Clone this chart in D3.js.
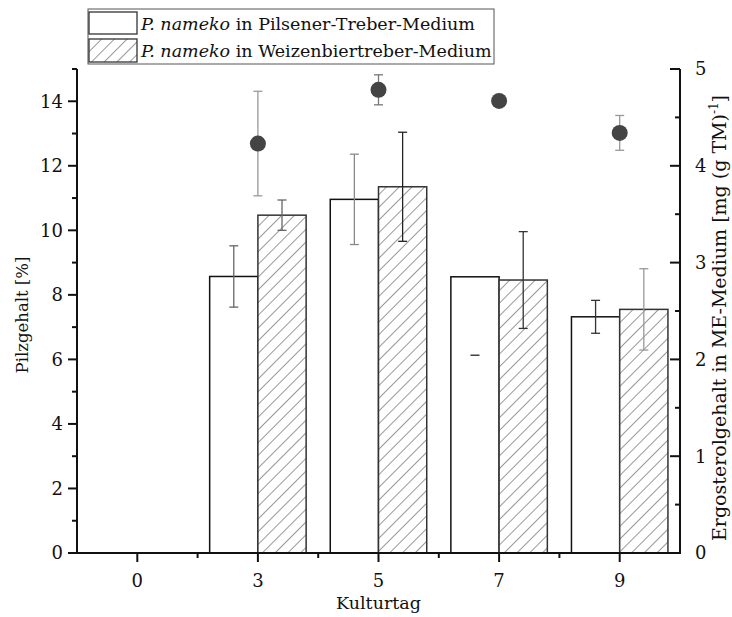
<!DOCTYPE html>
<html><head><meta charset="utf-8">
<script src="https://cdn.jsdelivr.net/npm/d3@7"></script>
<style>body{margin:0;background:#fff}svg{display:block}</style>
</head><body><svg id="c" width="732" height="617" font-family="'DejaVu Serif', serif"></svg>
<script>
const categories = ["0","3","5","7","9"];
const pilsener = [0, 8.57, 10.96, 8.56, 7.32];
const pilsenerErr = [0, 0.95, 1.4, 2.43, 0.51];
const weizen = [0, 10.47, 11.35, 8.46, 7.55];
const weizenErr = [0, 0.47, 1.69, 1.5, 1.26];
const ergosterol = [null, 4.23, 4.785, 4.67, 4.34];
const ergosterolErr = [null, 0.54, 0.155, 0.04, 0.18];
const leftTicks = [0,2,4,6,8,10,12,14];
const rightTicks = [0,1,2,3,4,5];
const legendLabels = ["in Pilsener-Treber-Medium","in Weizenbiertreber-Medium"];

const svg = d3.select("#c");
const x = d3.scaleLinear().domain([-0.5,4.5]).range([77,680]);
const yL = d3.scaleLinear().domain([0,15]).range([553,69]);
const yR = d3.scaleLinear().domain([0,5]).range([553,69]);
const bw = x(0.4)-x(0);

const defs = svg.append("defs");
const pat = defs.append("pattern").attr("id","hatch").attr("patternUnits","userSpaceOnUse")
  .attr("width",9).attr("height",9).attr("patternTransform","rotate(45)");
pat.append("rect").attr("width",9).attr("height",9).attr("fill","#fff");
pat.append("line").attr("x1",0).attr("y1",0).attr("x2",0).attr("y2",9).attr("stroke","#333").attr("stroke-width",1);

const idx = d3.range(categories.length);
svg.append("g").selectAll("rect").data(idx.filter(i=>pilsener[i]>0)).join("rect")
  .attr("x",i=>x(i)-bw).attr("width",bw).attr("y",i=>yL(pilsener[i])).attr("height",i=>yL(0)-yL(pilsener[i]))
  .attr("fill","#fff").attr("stroke","#111").attr("stroke-width",1.5);
svg.append("g").selectAll("rect").data(idx.filter(i=>weizen[i]>0)).join("rect")
  .attr("x",i=>x(i)).attr("width",bw).attr("y",i=>yL(weizen[i])).attr("height",i=>yL(0)-yL(weizen[i]))
  .attr("fill","url(#hatch)").attr("stroke","#333").attr("stroke-width",1.5);

function errBar(g, cx, y, lo, hi, col, capOnlyLow){
  const cw = 4.5;
  if(!capOnlyLow){
    g.append("line").attr("x1",cx).attr("x2",cx).attr("y1",y(hi)).attr("y2",y(lo)).attr("stroke",col).attr("stroke-width",1.3);
    g.append("line").attr("x1",cx-cw).attr("x2",cx+cw).attr("y1",y(hi)).attr("y2",y(hi)).attr("stroke",col).attr("stroke-width",1.3);
  }
  g.append("line").attr("x1",cx-cw).attr("x2",cx+cw).attr("y1",y(lo)).attr("y2",y(lo)).attr("stroke",col).attr("stroke-width",1.3);
}
const eg = svg.append("g");
const pCols = ["#555","#666","#888","#222","#333"];
const wCols = ["#555","#666","#222","#333","#999"];
idx.forEach(i=>{
  if(pilsener[i]>0) errBar(eg, x(i)-bw/2, yL, pilsener[i]-pilsenerErr[i], pilsener[i]+pilsenerErr[i], pCols[i], i===3);
  if(weizen[i]>0) errBar(eg, x(i)+bw/2, yL, weizen[i]-weizenErr[i], weizen[i]+weizenErr[i], wCols[i], false);
});
const eCols = ["#999","#999","#777","#999","#999"];
idx.forEach(i=>{
  if(ergosterol[i]!=null) errBar(eg, x(i), yR, ergosterol[i]-ergosterolErr[i], ergosterol[i]+ergosterolErr[i], eCols[i], false);
});
svg.append("g").selectAll("circle").data(idx.filter(i=>ergosterol[i]!=null)).join("circle")
  .attr("cx",i=>x(i)).attr("cy",i=>yR(ergosterol[i])).attr("r",8).attr("fill","#444");

const ax = svg.append("g").attr("stroke","#111").attr("stroke-width",2).attr("fill","none");
ax.append("line").attr("x1",x(-0.5)).attr("x2",x(-0.5)).attr("y1",yL(0)+1).attr("y2",yL(15));
ax.append("line").attr("x1",x(4.5)).attr("x2",x(4.5)).attr("y1",yL(0)+1).attr("y2",yL(15));
ax.append("line").attr("x1",x(-0.5)).attr("x2",x(4.5)).attr("y1",yL(0)).attr("y2",yL(0));
d3.range(0,16).forEach(v=>{
  const L = v%2===0?9:5;
  ax.append("line").attr("x1",x(-0.5)-L).attr("x2",x(-0.5)).attr("y1",yL(v)).attr("y2",yL(v));
});
d3.range(0,11).forEach(k=>{
  const v=k/2; const L = k%2===0?10:5;
  ax.append("line").attr("x1",x(4.5)-L).attr("x2",x(4.5)).attr("y1",yR(v)).attr("y2",yR(v));
});
idx.forEach(i=>{
  ax.append("line").attr("x1",x(i)).attr("x2",x(i)).attr("y1",yL(0)).attr("y2",yL(0)+9);
  if(i<4) ax.append("line").attr("x1",x(i+0.5)).attr("x2",x(i+0.5)).attr("y1",yL(0)).attr("y2",yL(0)+5);
});
const fs = 18;
svg.append("g").selectAll("text").data(leftTicks).join("text")
  .attr("x",x(-0.5)-14).attr("y",d=>yL(d)).attr("dy","0.36em").attr("text-anchor","end").attr("font-size",fs).attr("fill","#111").text(d=>d);
svg.append("g").selectAll("text").data(rightTicks).join("text")
  .attr("x",x(4.5)+15).attr("y",d=>yR(d)).attr("dy","0.36em").attr("text-anchor","start").attr("font-size",fs).attr("fill","#111").text(d=>d);
svg.append("g").selectAll("text").data(idx).join("text")
  .attr("x",i=>x(i)).attr("y",yL(0)+34).attr("text-anchor","middle").attr("font-size",fs).attr("fill","#111").text(i=>categories[i]);
svg.append("text").attr("x",(x(-0.5)+x(4.5))/2).attr("y",609).attr("text-anchor","middle").attr("font-size",17.5).attr("fill","#111").text("Kulturtag");
svg.append("text").attr("transform","translate(28,315) rotate(-90)").attr("text-anchor","middle").attr("font-size",16.5).attr("fill","#111").text("Pilzgehalt [%]");
const rt = svg.append("text").attr("transform","translate(726,318) rotate(-90)").attr("text-anchor","middle").attr("font-size",19).attr("fill","#111");
rt.append("tspan").text("Ergosterolgehalt in ME-Medium [mg (g TM)");
rt.append("tspan").attr("dy",-8).attr("font-size",12).text("-1");
rt.append("tspan").attr("dy",8).text("]");

const lg = svg.append("g");
lg.append("rect").attr("x",88).attr("y",9).attr("width",406).attr("height",55).attr("fill","#fff").attr("stroke","#555").attr("stroke-width",1);
lg.append("rect").attr("x",89).attr("y",12).attr("width",48).attr("height",22).attr("fill","#fff").attr("stroke","#333").attr("stroke-width",1.3);
lg.append("rect").attr("x",89).attr("y",39).attr("width",48).attr("height",23).attr("fill","url(#hatch)").attr("stroke","#333").attr("stroke-width",1.3);
legendLabels.forEach((t,k)=>{
  const tx = lg.append("text").attr("x",141).attr("y",30+k*27).attr("font-size",17.5).attr("fill","#111");
  tx.append("tspan").attr("font-style","italic").text("P. nameko");
  tx.append("tspan").text(" "+t);
});
</script></body></html>
